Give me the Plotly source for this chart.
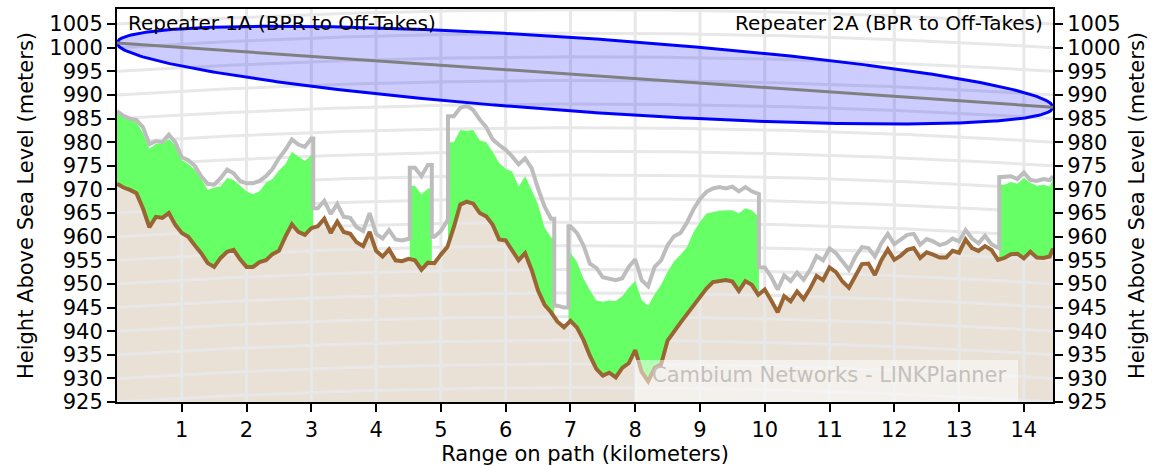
import numpy as np
import plotly.graph_objects as go

# ---- path geometry -------------------------------------------------------
PATH_KM = 14.45
Y_MIN, Y_MAX = 925.0, 1008.2

# profile samples every 100 m, plus the far end of the link
profile_km = np.append(np.round(np.arange(0, 14.41, 0.1), 1), PATH_KM)

# ground height (brown line)
terrain_m = [
    971.2, 970.4, 969.9, 969.2, 966.0, 962.0, 964.2, 964.0, 965.0, 962.5,
    960.8, 960.0, 958.2, 956.5, 954.4, 953.6, 955.5, 956.8, 957.2, 955.2,
    953.6, 953.6, 954.6, 955.0, 956.3, 957.0, 960.0, 962.6, 961.0, 960.4,
    961.8, 962.2, 963.8, 960.8, 963.2, 961.0, 960.6, 958.8, 958.0, 961.0,
    957.0, 955.8, 957.3, 955.0, 954.8, 955.3, 955.0, 953.0, 954.5, 954.4,
    956.2, 957.8, 962.0, 966.8, 967.4, 967.0, 965.0, 964.3, 962.5, 959.4,
    959.2, 957.0, 955.0, 956.5, 953.0, 948.6, 945.6, 944.0, 942.0, 940.8,
    942.2, 940.8, 938.2, 934.8, 932.0, 930.6, 931.2, 930.2, 932.2, 933.2,
    936.0, 931.4, 929.4, 932.2, 933.0, 938.0, 940.0, 941.8, 943.6, 945.4,
    947.2, 949.0, 950.4, 950.6, 950.8, 950.5, 948.5, 950.6, 949.8, 947.7,
    948.8, 946.5, 944.0, 947.4, 946.3, 948.4, 946.8, 949.0, 951.7, 950.8,
    953.5, 952.5, 950.5, 949.2, 951.5, 954.2, 954.3, 951.9, 955.0, 957.3,
    955.1, 956.0, 957.2, 957.6, 955.5, 956.7, 956.2, 955.6, 955.6, 957.0,
    956.6, 959.4, 957.6, 957.0, 958.0, 957.2, 955.1, 955.5, 956.3, 956.4,
    955.4, 956.8, 955.6, 955.5, 955.8, 957.5,
]

# top of obstructions incl. clearance allowance (grey line)
obstruction_m = [
    986.6, 985.6, 985.0, 984.7, 983.2, 979.6, 980.2, 980.0, 981.6, 980.0,
    976.8, 976.2, 975.0, 972.8, 971.2, 971.0, 972.4, 974.2, 973.4, 971.8,
    971.3, 971.3, 971.8, 972.8, 974.3, 976.6, 978.4, 980.6, 979.5, 979.0,
    980.8, 966.0, 967.6, 964.8, 966.9, 964.2, 964.0, 962.0, 961.2, 965.0,
    960.6, 959.6, 961.4, 959.4, 959.2, 959.6, 974.6, 972.8, 975.2, 960.0,
    961.2, 963.4, 985.5, 987.3, 987.7, 986.8, 984.8, 983.2, 980.6, 979.4,
    978.4, 977.0, 975.3, 976.6, 974.5, 970.2, 966.4, 963.8, 945.4, 945.0,
    962.2, 960.8, 958.2, 954.3, 953.4, 951.4, 951.0, 950.8, 951.2, 953.6,
    955.2, 950.8, 949.5, 953.6, 955.0, 958.2, 960.1, 960.8, 963.0, 965.8,
    968.0, 969.5, 970.2, 970.5, 970.2, 970.6, 969.6, 970.5, 969.6, 969.0,
    953.5, 951.5, 948.8, 951.8, 950.6, 952.4, 950.9, 953.0, 955.9, 955.0,
    957.5, 956.5, 954.6, 953.0, 955.8, 957.8, 957.6, 955.8, 958.6, 960.6,
    958.4, 959.4, 960.4, 960.6, 958.3, 959.5, 959.0, 958.2, 958.6, 959.6,
    959.0, 961.4, 959.6, 958.6, 960.2, 958.4, 957.5, 972.6, 972.8, 972.2,
    973.6, 972.0, 971.8, 972.2, 972.0, 972.8,
]

# tree canopy top (green), None where there is no vegetation
canopy_m = [
    986.3, 985.3, 984.7, 984.3, 982.0, 978.6, 979.6, 979.8, 980.6, 979.4,
    976.2, 975.4, 974.2, 972.3, 969.9, 970.4, 970.6, 972.4, 972.0, 970.8,
    969.6, 969.0, 969.6, 971.4, 972.2, 974.0, 975.4, 978.0, 977.0, 976.0,
    977.3, None, None, None, None, None, None, None, None, None,
    None, None, None, None, None, None, 970.8, 969.0, 970.2, None,
    None, None, 980.0, 982.6, 982.4, 982.6, 980.4, 980.0, 978.0, 975.6,
    974.4, 973.8, 970.6, 972.8, 970.0, 966.8, 962.0, 959.8, None, None,
    956.6, 954.7, 951.2, 948.7, 946.5, 946.2, 946.5, 946.4, 947.4, 949.2,
    950.6, 946.6, 945.4, 947.8, 949.8, 952.6, 954.8, 956.2, 957.8, 961.0,
    963.1, 964.9, 965.2, 965.5, 965.6, 965.6, 964.9, 966.0, 965.6, 964.2,
    None, None, None, None, None, None, None, None, None, None,
    None, None, None, None, None, None, None, None, None, None,
    None, None, None, None, None, None, None, None, None, None,
    None, None, None, None, None, None, None, 971.0, 971.6, 971.2,
    972.4, 971.4, 970.8, 971.0, 970.6, 972.2,
]

# stretches of the path covered by vegetation (start km, end km)
canopy_spans_km = [(0.0, 3.03), (4.52, 4.86), (5.11, 6.75), (6.97, 9.91), (13.62, 14.45)]

# antenna heights of the line of sight at each end
los_start_m, los_end_m = 1001.0, 987.4
fresnel_mid_radius_m = 7.8

# earth curvature used for the height reference grid
K_FACTOR = 4.0 / 3.0
EARTH_RADIUS_KM = 6371.0

km_ticks = list(range(1, 15))
height_ticks = list(range(925, 1006, 5))

TITLE_LEFT = "Repeater 1A (BPR to Off-Takes)"
TITLE_RIGHT = "Repeater 2A (BPR to Off-Takes)"
WATERMARK = "Cambium Networks - LINKPlanner"
FONT = "DejaVu Sans"

# ---- derived geometry ----------------------------------------------------
km = np.asarray(profile_km, dtype=float)
terrain = np.asarray(terrain_m, dtype=float)
obstruction = np.asarray(obstruction_m, dtype=float)
canopy = np.array([np.nan if v is None else v for v in canopy_m], dtype=float)

inside = np.zeros(len(km), dtype=bool)
for s, e in canopy_spans_km:
    inside |= (km >= s) & (km <= e)
edges = sorted(v for span in canopy_spans_km for v in span)

# grey line with vertical steps at the vegetation edges
gx, gy = [km[0]], [obstruction[0]]
for i in range(1, len(km)):
    if inside[i] != inside[i - 1]:
        b = next(v for v in edges if km[i - 1] < v < km[i])
        gx += [b, b]
        gy += [obstruction[i - 1], obstruction[i]]
    gx.append(km[i])
    gy.append(obstruction[i])


def bulge_m(d):
    return d * (PATH_KM - d) / (2.0 * K_FACTOR * EARTH_RADIUS_KM) * 1000.0


fig = go.Figure()

# ground body
fig.add_trace(go.Scatter(
    x=km, y=terrain, mode="lines", line=dict(width=0, color="#e9e0d6"),
    fill="tozeroy", fillcolor="#e9e0d6", hoverinfo="skip"))

# curved height grid and range grid
grid_d = np.linspace(0, PATH_KM, 200)
hx, hy = [], []
for level in range(920, 1015, 5):
    hx += list(grid_d) + [None]
    hy += list(level + bulge_m(grid_d)) + [None]
fig.add_trace(go.Scatter(x=hx, y=hy, mode="lines",
                         line=dict(color="#e8e8e8", width=3), hoverinfo="skip"))
vx, vy = [], []
for t in km_ticks:
    vx += [t, t, None]
    vy += [Y_MIN - 5, Y_MAX + 5, None]
fig.add_trace(go.Scatter(x=vx, y=vy, mode="lines",
                         line=dict(color="#e8e8e8", width=3), hoverinfo="skip"))

# vegetation
for s, e in canopy_spans_km:
    idx = np.where((km >= s) & (km <= e))[0]
    xs = np.concatenate([[s], km[idx], [e]])
    tops = np.concatenate([[canopy[idx[0]]], canopy[idx], [canopy[idx[-1]]]])
    base = np.interp(xs, km, terrain)
    fig.add_trace(go.Scatter(
        x=np.concatenate([xs, xs[::-1]]), y=np.concatenate([tops, base[::-1]]),
        mode="lines", line=dict(width=0, color="#66ff66"),
        fill="toself", fillcolor="#66ff66", hoverinfo="skip"))

# obstruction line and terrain line
fig.add_trace(go.Scatter(x=gx, y=gy, mode="lines",
                         line=dict(color="#bdbdbd", width=4), hoverinfo="skip"))
fig.add_trace(go.Scatter(x=km, y=terrain, mode="lines",
                         line=dict(color="#996633", width=4), hoverinfo="skip"))

# first Fresnel zone around the line of sight
fd = np.linspace(0, PATH_KM, 400)
los = los_start_m + (los_end_m - los_start_m) * fd / PATH_KM
radius = fresnel_mid_radius_m * np.sqrt(np.clip(fd * (PATH_KM - fd), 0, None)) / (PATH_KM / 2)
fig.add_trace(go.Scatter(
    x=np.concatenate([fd, fd[::-1]]),
    y=np.concatenate([los + radius, (los - radius)[::-1]]),
    mode="lines", line=dict(color="#0000ff", width=3),
    fill="toself", fillcolor="rgba(0,0,255,0.2)", hoverinfo="skip"))
fig.add_trace(go.Scatter(x=[0, PATH_KM], y=[los_start_m, los_end_m], mode="lines",
                         line=dict(color="#808080", width=3), hoverinfo="skip"))

# carrier for the right-hand height axis
fig.add_trace(go.Scatter(x=[0], y=[Y_MIN], yaxis="y2", mode="markers",
                         marker=dict(opacity=0), hoverinfo="skip"))

axis_common = dict(
    ticks="outside", ticklen=8, tickwidth=2, tickcolor="black",
    showline=True, linecolor="black", linewidth=2,
    showgrid=False, zeroline=False, automargin=False,
    tickfont=dict(family=FONT, size=21, color="black"),
)

fig.update_layout(
    width=1156, height=466,
    margin=dict(l=117, r=103, t=9, b=64),
    paper_bgcolor="white", plot_bgcolor="white",
    showlegend=False,
    font=dict(family=FONT, color="black"),
    xaxis=dict(range=[0, PATH_KM], tickvals=km_ticks, mirror=True,
               title=dict(text="Range on path (kilometers)",
                          font=dict(family=FONT, size=21), standoff=4),
               **axis_common),
    yaxis=dict(range=[Y_MIN, Y_MAX], tickvals=height_ticks,
               title=dict(text="Height Above Sea Level (meters)",
                          font=dict(family=FONT, size=21), standoff=10),
               **axis_common),
    yaxis2=dict(range=[Y_MIN, Y_MAX], tickvals=height_ticks, overlaying="y", side="right",
                title=dict(text="Height Above Sea Level (meters)",
                           font=dict(family=FONT, size=21), standoff=10),
                **axis_common),
    shapes=[dict(type="rect", xref="paper", yref="paper",
                 x0=(635 - 117) / 936, x1=(1018 - 117) / 936, y0=0, y1=0.107,
                 fillcolor="rgba(255,255,255,0.5)", line=dict(width=0), layer="above")],
    annotations=[
        dict(text=TITLE_LEFT, xref="paper", yref="paper", x=0, y=1,
             xanchor="left", yanchor="top", xshift=9, yshift=0, showarrow=False,
             font=dict(family=FONT, size=20, color="black")),
        dict(text=TITLE_RIGHT, xref="paper", yref="paper", x=1, y=1,
             xanchor="right", yanchor="top", xshift=-8, yshift=0, showarrow=False,
             font=dict(family=FONT, size=20, color="black")),
        dict(text=WATERMARK, xref="paper", yref="paper", x=(828.5 - 117) / 936, y=0.069,
             xanchor="center", yanchor="middle", showarrow=False,
             font=dict(family=FONT, size=21, color="#c4c0bc")),
    ],
)

fig.write_html("out.html")
